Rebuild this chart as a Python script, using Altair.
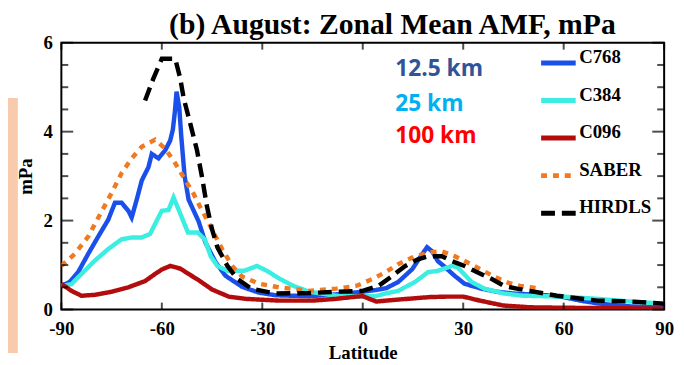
import altair as alt
import pandas as pd

series_names = ["C768", "C384", "C096", "SABER", "HIRDLS"]
series_colors = ["#1B4FEA", "#3CEEE2", "#B30C0C", "#F07A22", "#000000"]

c768_lat = [-90, -87.5, -85, -82, -79, -76, -74, -72, -70, -69, -67.5, -66, -64, -63, -61, -59, -57.5,
            -56.7, -56.1, -55.6, -54.8, -54.2, -53.2, -52, -49, -47, -44, -41, -36, -31, -26, -16, -8,
            0, 4, 7, 10.6, 14.8, 17.7, 19.2, 20.7, 22.4, 24.5, 27.4, 30.4, 35.4, 40, 45, 55, 60, 65,
            70, 75, 80, 90]
c768_val = [0.53, 0.62, 0.84, 1.25, 1.64, 2.02, 2.4, 2.4, 2.22, 2.07, 2.47, 2.9, 3.2, 3.5, 3.4, 3.58, 3.8,
            4.05, 4.45, 4.9, 4.55, 3.9, 3.0, 2.47, 1.98, 1.51, 1.07, 0.76, 0.51, 0.38, 0.32, 0.3, 0.34,
            0.4, 0.44, 0.48, 0.62, 0.91, 1.24, 1.4, 1.31, 1.09, 0.96, 0.76, 0.58, 0.47, 0.4, 0.36, 0.32,
            0.28, 0.2, 0.14, 0.1, 0.07, 0.05]

c384_lat = [-90, -87, -84, -80, -76, -72, -69, -66, -63.5, -61.5, -60, -58, -56.5, -55, -52.2, -49.3,
            -47.2, -45.4, -43.4, -40.4, -35.4, -31.6, -28.6, -24.8, -20.7, -15.9, -8, -2, 3.8, 6.8,
            10.6, 15.6, 19.5, 22.4, 26.6, 28.3, 32.5, 36.3, 42.2, 48, 60, 70, 80, 90]
c384_val = [0.53, 0.57, 0.8, 1.1, 1.36, 1.58, 1.62, 1.62, 1.7, 2.0, 2.22, 2.24, 2.52, 2.25, 1.73, 1.73,
            1.58, 1.2, 0.98, 0.87, 0.87, 0.98, 0.87, 0.69, 0.53, 0.4, 0.31, 0.3, 0.3, 0.36,
            0.42, 0.62, 0.84, 0.87, 0.98, 0.95, 0.62, 0.47, 0.36, 0.31, 0.29, 0.24, 0.18, 0.13]

c096_lat = [-90, -87, -84, -80, -75, -70, -65, -62, -60, -57.5, -54.5, -52, -49, -45, -40, -35, -25,
            -15, -8, -2, 0, 4, 10, 20, 25, 30, 35, 42, 50, 60, 75, 90]
c096_val = [0.58, 0.42, 0.31, 0.33, 0.4, 0.5, 0.64, 0.8, 0.9, 0.98, 0.92, 0.8, 0.66, 0.45, 0.29, 0.24,
            0.2, 0.2, 0.24, 0.29, 0.3, 0.18, 0.22, 0.28, 0.29, 0.29, 0.2, 0.09, 0.05, 0.04, 0.03, 0.02]

saber_lat = [-90, -86, -82, -78, -75, -72, -69, -66, -62, -59, -56, -53, -50.5, -48.5, -46, -44, -42,
             -39, -36, -31, -25, -16, -8, -2, 3, 6.8, 10.6, 15.6, 20.7, 23.5, 27.4, 31, 35, 39.5,
             43.5, 47, 53]
saber_val = [0.98, 1.25, 1.64, 2.2, 2.62, 3.07, 3.4, 3.66, 3.82, 3.62, 3.29, 2.91, 2.6, 2.3, 1.95, 1.65,
             1.36, 0.98, 0.74, 0.58, 0.5, 0.42, 0.47, 0.53, 0.69, 0.84, 1.02, 1.2, 1.29, 1.31, 1.2,
             1.07, 0.91, 0.73, 0.6, 0.53, 0.47]

hirdls_lat = [-65, -62.5, -60, -56, -54.5, -53.5, -51.5, -49.5, -48, -46.5, -45, -43.4, -40.4, -37.5,
              -33.3, -26, -16, -8, 0, 4.7, 8.9, 12.7, 16.5, 19.5, 23.6, 26.6, 30.4, 34.2, 38.4, 42.2,
              46, 58, 70, 80, 90]
hirdls_val = [4.7, 5.2, 5.64, 5.64, 5.2, 4.76, 4.18, 3.58, 2.98, 2.31, 1.8, 1.4, 0.98, 0.69, 0.47, 0.36,
              0.37, 0.4, 0.42, 0.53, 0.76, 0.98, 1.13, 1.2, 1.2, 1.09, 0.98, 0.84, 0.69, 0.53, 0.47,
              0.31, 0.2, 0.18, 0.13]

x_tick_values = [-90, -60, -30, 0, 30, 60, 90]
y_major_values = [0, 2, 4, 6]
y_minor_values = [0.5, 1, 1.5, 2.5, 3, 3.5, 4.5, 5, 5.5]

ann_text = ["12.5 km", "25 km", "100 km"]
ann_lat = [9.7, 9.7, 9.7]
ann_val = [5.4, 4.62, 3.89]
ann_color = ["#2F5597", "#00B0F0", "#FF0000"]

rows = []
for name, lats, vals in [("C768", c768_lat, c768_val), ("C384", c384_lat, c384_val),
                         ("C096", c096_lat, c096_val), ("SABER", saber_lat, saber_val),
                         ("HIRDLS", hirdls_lat, hirdls_val)]:
    for la, v in zip(lats, vals):
        rows.append({"series": name, "lat": la, "val": v})
df = pd.DataFrame(rows)

SERIF = "Liberation Serif"
xscale = alt.Scale(domain=[-90, 90], nice=False)
yscale = alt.Scale(domain=[0, 6], nice=False)
X = alt.X("lat:Q", scale=xscale,
          axis=alt.Axis(values=x_tick_values, title="Latitude", labelExpr="'' + datum.value",
                        labelFlush=False, labelOverlap=False))
Y = alt.Y("val:Q", scale=yscale,
          axis=alt.Axis(values=y_major_values, title="mPa", labelExpr="'' + datum.value",
                        labelFlush=False, labelOverlap=False))

lines = alt.Chart(df).mark_line(clip=True, strokeWidth=4.5).encode(
    x=X, y=Y,
    color=alt.Color("series:N", scale=alt.Scale(domain=series_names, range=series_colors),
                    title=None),
    strokeDash=alt.StrokeDash("series:N", scale=alt.Scale(
        domain=series_names, range=[[1, 0], [1, 0], [1, 0], [6, 6], [14, 7]]), title=None),
    order=alt.Order("lat:Q"),
)

xt = pd.DataFrame({"lat": x_tick_values})
ymaj = pd.DataFrame({"val": y_major_values})
ymin = pd.DataFrame({"val": y_minor_values})

def tick(data, orient, size, **enc):
    return alt.Chart(data).mark_tick(orient=orient, color="black", thickness=2, size=size).encode(**enc)

bottom_ticks = tick(xt, "vertical", 7, x=X, y=alt.value(266.5))
top_ticks = tick(xt, "vertical", 7, x=X, y=alt.value(3.5))
left_major = tick(ymaj, "horizontal", 12, y=Y, x=alt.value(6))
left_minor = tick(ymin, "horizontal", 7, y=Y, x=alt.value(3.5))
right_major = tick(ymaj, "horizontal", 12, y=Y, x=alt.value(604))
right_minor = tick(ymin, "horizontal", 7, y=Y, x=alt.value(606.5))

ann_df = pd.DataFrame({"text": ann_text, "lat": ann_lat, "val": ann_val, "color": ann_color})
ann = alt.Chart(ann_df).mark_text(font="Open Sans", fontWeight="bold", fontSize=23,
                                  align="left", baseline="middle").encode(
    x=X, y=Y,
    text="text:N",
    color=alt.Color("color:N", scale=None),
)

side = alt.Chart(pd.DataFrame({"k": [0]})).mark_rect(color="#F8CBAD").encode(
    x=alt.value(-54), x2=alt.value(-44), y=alt.value(56), y2=alt.value(314))

chart = alt.layer(side, lines, bottom_ticks, top_ticks, left_major, left_minor,
                  right_major, right_minor, ann).properties(
    width=610, height=270,
    title=alt.Title("(b) August: Zonal Mean AMF, mPa", font=SERIF, fontSize=30,
                    fontWeight="bold", anchor="middle", offset=1, dx=30, dy=7, color="black"),
    padding={"left": 54, "top": 33, "right": 12, "bottom": 54},
    autosize=alt.AutoSizeParams(type="none"),
).configure_view(stroke="black", strokeWidth=2).configure_axis(
    grid=False, domain=False, ticks=False,
    labelFont=SERIF, labelFontWeight="bold", labelFontSize=19, labelColor="black",
    titleFont=SERIF, titleFontWeight="bold", titleFontSize=19, titleColor="black",
).configure_axisX(labelPadding=10, titlePadding=6).configure_axisY(
    labelPadding=9, titlePadding=8
).configure_legend(
    orient="none", legendX=483, legendY=0.5, symbolType="stroke", symbolSize=1225,
    symbolStrokeWidth=5, labelFont=SERIF, labelFontWeight="bold", labelFontSize=19,
    labelColor="black", rowPadding=8, labelOffset=1, padding=0, labelBaseline="alphabetic",
)

chart.save("out.html", embed_options={"renderer": "svg", "actions": False})
